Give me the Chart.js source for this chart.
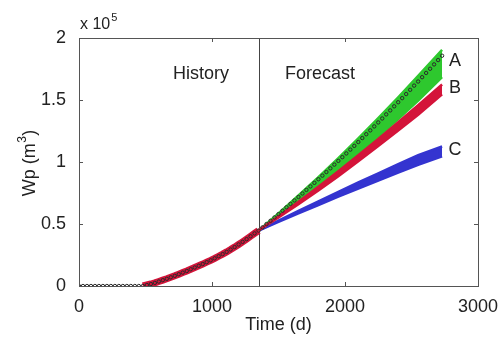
<!DOCTYPE html>
<html>
<head>
<meta charset="utf-8">
<script src="https://cdn.jsdelivr.net/npm/chart.js"></script>
<style>body{margin:0;background:#fff}</style>
</head>
<body>
<canvas id="wpChart" width="502" height="340"></canvas>
<script>
// Cumulative water production Wp, in units of 10^5 m3

// observed points (circles), every 30 days
const obsDays = [0, 30, 60, 90, 120, 150, 180, 210, 240, 270, 300, 330, 360, 390, 420, 450, 480,
  510, 540, 570, 600, 630, 660, 690, 720, 750, 780, 810, 840, 870, 900, 930, 960, 990,
  1020, 1050, 1080, 1110, 1140, 1170, 1200, 1230, 1260, 1290, 1320, 1350,
  1380, 1410, 1440, 1470, 1500, 1530, 1560, 1590, 1620, 1650, 1680, 1710, 1740, 1770, 1800,
  1830, 1860, 1890, 1920, 1950, 1980, 2010, 2040, 2070, 2100, 2130, 2160, 2190, 2220, 2250,
  2280, 2310, 2340, 2370, 2400, 2430, 2460, 2490, 2520, 2550, 2580, 2610, 2640, 2670, 2700, 2730];
const obsWp = [0, 0, 0, 0, 0, 0, 0, 0, 0, 0, 0, 0, 0, 0, 0, 0, 0,
  0.008, 0.016, 0.025, 0.036, 0.047, 0.058, 0.070, 0.082, 0.095, 0.108, 0.121, 0.135, 0.149, 0.163, 0.177, 0.192, 0.207,
  0.223, 0.240, 0.257, 0.275, 0.294, 0.314, 0.335, 0.356, 0.378, 0.401, 0.424, 0.447,
  0.473, 0.500, 0.526, 0.553, 0.580, 0.607, 0.635, 0.662, 0.690, 0.718, 0.746, 0.775, 0.803, 0.832, 0.861,
  0.890, 0.919, 0.949, 0.979, 1.009, 1.039, 1.069, 1.100, 1.130, 1.161, 1.193, 1.224, 1.255, 1.287, 1.319,
  1.351, 1.384, 1.416, 1.449, 1.482, 1.515, 1.548, 1.582, 1.616, 1.649, 1.684, 1.718, 1.752, 1.787, 1.822, 1.857];

// history match (red), from start of production to end of history
const histDays = [480, 510, 540, 570, 600, 630, 660, 690, 720, 750, 780, 810, 840, 870, 900, 930, 960, 990,
  1020, 1050, 1080, 1110, 1140, 1170, 1200, 1230, 1260, 1290, 1320, 1350];
const histWp = [0, 0.008, 0.016, 0.025, 0.036, 0.047, 0.058, 0.070, 0.082, 0.095, 0.108, 0.121, 0.135, 0.149, 0.163, 0.177, 0.192, 0.207,
  0.223, 0.240, 0.257, 0.275, 0.294, 0.314, 0.335, 0.356, 0.378, 0.401, 0.424, 0.447];

// forecast envelopes
const fcDays = [1350, 1500, 1650, 1800, 1950, 2100, 2250, 2400, 2550, 2730];
const aHigh = [0.447, 0.586, 0.730, 0.878, 1.032, 1.190, 1.354, 1.522, 1.695, 1.905];
const aLow  = [0.447, 0.561, 0.680, 0.803, 0.932, 1.065, 1.204, 1.347, 1.495, 1.685];
const bHigh = [0.447, 0.562, 0.680, 0.801, 0.926, 1.054, 1.186, 1.321, 1.459, 1.625];
const bLow  = [0.447, 0.552, 0.660, 0.771, 0.886, 1.006, 1.128, 1.253, 1.381, 1.545];
const cHigh = [0.447, 0.527, 0.605, 0.683, 0.760, 0.835, 0.909, 0.982, 1.055, 1.125];
const cLow  = [0.447, 0.517, 0.585, 0.653, 0.720, 0.785, 0.851, 0.914, 0.977, 1.045];

const splitDay = 1350;
const xTicks = [0, 1000, 2000, 3000];
const yTicks = [0, 0.5, 1, 1.5, 2];
const bandNames = ["A", "B", "C"];
const bandLabelAt = [1.815, 1.593, 1.10];

const GREEN = "rgb(46,200,46)";
const RED = "rgb(212,20,58)";
const BLUE = "rgb(52,52,208)";
const FONT = '"Liberation Sans", Arial, Helvetica, sans-serif';

function pts(xs, ys) {
  return xs.map((x, i) => ({ x: x, y: ys[i] }));
}

function band(ys, color, fill, order) {
  return {
    data: pts(fcDays, ys),
    showLine: true,
    borderColor: color,
    backgroundColor: color,
    borderWidth: 2.5,
    pointRadius: 0,
    fill: fill,
    order: order
  };
}

const decorations = {
  id: "decorations",
  beforeDatasetsDraw(chart) {
    const { ctx, chartArea: a, scales: { x } } = chart;
    const xs = Math.round(x.getPixelForValue(splitDay)) + 0.5;
    ctx.save();
    ctx.strokeStyle = "#444";
    ctx.lineWidth = 1;
    ctx.beginPath();
    ctx.moveTo(xs, a.top);
    ctx.lineTo(xs, a.bottom);
    ctx.stroke();
    ctx.restore();
  },
  afterDraw(chart) {
    const { ctx, chartArea: a, scales: { x, y } } = chart;
    ctx.save();
    // axis box
    ctx.strokeStyle = "#555";
    ctx.lineWidth = 1;
    ctx.strokeRect(Math.round(a.left) + 0.5, Math.round(a.top) + 0.5,
      Math.round(a.right - a.left), Math.round(a.bottom - a.top));
    // inward ticks
    ctx.beginPath();
    xTicks.slice(1, -1).forEach(v => {
      const px = Math.round(x.getPixelForValue(v)) + 0.5;
      ctx.moveTo(px, a.bottom); ctx.lineTo(px, a.bottom - 4);
      ctx.moveTo(px, a.top); ctx.lineTo(px, a.top + 4);
    });
    yTicks.slice(1, -1).forEach(v => {
      const py = Math.round(y.getPixelForValue(v)) + 0.5;
      ctx.moveTo(a.left, py); ctx.lineTo(a.left + 4, py);
      ctx.moveTo(a.right, py); ctx.lineTo(a.right - 4, py);
    });
    ctx.stroke();

    ctx.fillStyle = "#222";
    // exponent
    ctx.textBaseline = "alphabetic";
    ctx.textAlign = "left";
    ctx.font = "16px " + FONT;
    ctx.fillText("x 10", 80, 29);
    const w10 = ctx.measureText("x 10").width;
    ctx.font = "11px " + FONT;
    ctx.fillText("5", 80 + w10 + 1, 21);

    ctx.font = "18px " + FONT;
    ctx.textAlign = "center";
    ctx.textBaseline = "middle";
    ctx.fillText("History", x.getPixelForValue(917), y.getPixelForValue(1.71));
    ctx.fillText("Forecast", x.getPixelForValue(1812), y.getPixelForValue(1.71));
    bandNames.forEach((n, i) => {
      ctx.fillText(n, x.getPixelForValue(2827), y.getPixelForValue(bandLabelAt[i]));
    });
    ctx.fillText("Time (d)", (a.left + a.right) / 2, 325);

    // y axis title with superscript
    ctx.translate(30, (a.top + a.bottom) / 2 + 1);
    ctx.rotate(-Math.PI / 2);
    ctx.textAlign = "left";
    const p1 = "Wp (m", p2 = "3", p3 = ")";
    ctx.font = "18px " + FONT;
    const w1 = ctx.measureText(p1).width, w3 = ctx.measureText(p3).width;
    ctx.font = "12px " + FONT;
    const w2 = ctx.measureText(p2).width;
    let sx = -(w1 + w2 + w3 + 1) / 2;
    ctx.font = "18px " + FONT;
    ctx.fillText(p1, sx, 0);
    ctx.font = "12px " + FONT;
    ctx.fillText(p2, sx + w1 + 0.5, -7);
    ctx.font = "18px " + FONT;
    ctx.fillText(p3, sx + w1 + w2 + 1, 0);
    ctx.restore();
  }
};

new Chart(document.getElementById("wpChart"), {
  type: "scatter",
  data: {
    datasets: [
      {
        data: pts(obsDays, obsWp),
        showLine: false,
        pointRadius: 1.7,
        pointBorderWidth: 1,
        pointBorderColor: "#2a2a2a",
        pointBackgroundColor: "rgba(0,0,0,0)",
        order: 0
      },
      {
        data: pts(histDays, histWp),
        showLine: true,
        borderColor: RED,
        borderWidth: 7,
        pointRadius: 0,
        fill: false,
        order: 1
      },
      band(bHigh, RED, "+1", 1),
      band(bLow, RED, false, 1),
      band(aHigh, GREEN, "+1", 2),
      band(aLow, GREEN, false, 2),
      band(cHigh, BLUE, "+1", 3),
      band(cLow, BLUE, false, 3)
    ]
  },
  options: {
    responsive: false,
    animation: false,
    layout: { padding: { left: 0, right: 24, top: 38, bottom: 0 } },
    plugins: { legend: { display: false }, tooltip: { enabled: false } },
    scales: {
      x: {
        type: "linear",
        min: 0,
        max: 3000,
        afterBuildTicks: s => { s.ticks = xTicks.map(v => ({ value: v })); },
        afterFit: s => { s.height = 54; },
        grid: { display: false },
        border: { display: false },
        ticks: { padding: 2, color: "#222", font: { family: FONT, size: 18 }, maxRotation: 0, callback: v => String(v) }
      },
      y: {
        type: "linear",
        min: 0,
        max: 2,
        afterBuildTicks: s => { s.ticks = yTicks.map(v => ({ value: v })); },
        afterFit: s => { s.width = 79; },
        grid: { display: false },
        border: { display: false },
        ticks: { padding: 5, color: "#222", font: { family: FONT, size: 18 }, callback: v => String(v) }
      }
    }
  },
  plugins: [decorations]
});
</script>
</body>
</html>
